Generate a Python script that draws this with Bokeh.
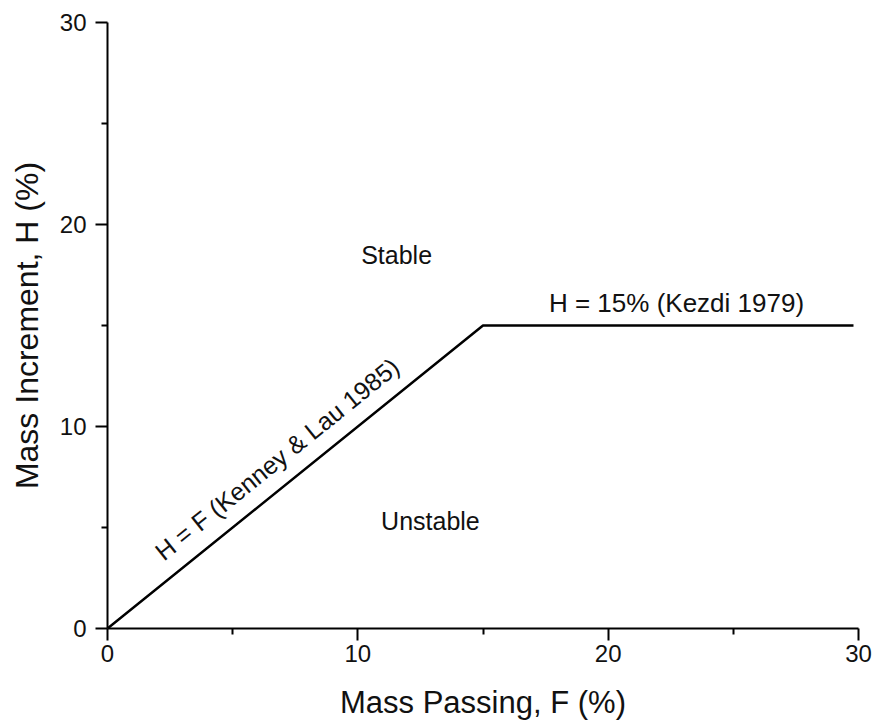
import math
from bokeh.plotting import figure
from bokeh.models import Range1d, FixedTicker, ColumnDataSource
from bokeh.embed import file_html
from bokeh.resources import INLINE
from bokeh.core.properties import value

# ---- data ----
mass_passing = [0, 15, 29.8]      # F (%)
mass_increment = [0, 15, 15]      # H (%)

x_major = [0, 10, 20, 30]
x_minor = [5, 15, 25]
y_major = [0, 10, 20, 30]
y_minor = [5, 15, 25]

region_labels = ["Stable", "Unstable"]
region_x = [11.55, 12.9]
region_y = [18.5, 5.3]

kezdi_label = ["H = 15% (Kezdi 1979)"]
kezdi_x = [22.73]
kezdi_y = [16.1]

kenney_label = ["H = F (Kenney & Lau 1985)"]
kenney_x = [6.77]
kenney_y = [8.39]

FONT = "Liberation Sans"

W, H = 875, 727
left, right, top, bottom = 107, 17, 22, 99
frame_w = W - left - right
frame_h = H - top - bottom

p = figure(width=W, height=H, output_backend="svg", toolbar_location=None,
           x_range=Range1d(0, 30), y_range=Range1d(0, 30),
           min_border_left=left, min_border_right=right,
           min_border_top=top, min_border_bottom=bottom)
p.outline_line_color = None
p.grid.visible = False
p.background_fill_color = "white"
p.border_fill_color = "white"

p.line(mass_passing, mass_increment, line_color="black", line_width=2.5)

src_r = ColumnDataSource(dict(x=region_x, y=region_y, t=region_labels))
p.text("x", "y", text="t", source=src_r, text_font=value(FONT),
       text_font_size="25px", text_align="center", text_baseline="middle",
       text_color="#111111")

src_k = ColumnDataSource(dict(x=kezdi_x, y=kezdi_y, t=kezdi_label))
p.text("x", "y", text="t", source=src_k, text_font=value(FONT),
       text_font_size="26px", text_align="center", text_baseline="middle",
       text_color="#111111")

ang = math.atan2(frame_h, frame_w)
src_kl = ColumnDataSource(dict(x=kenney_x, y=kenney_y, t=kenney_label))
p.text("x", "y", text="t", source=src_kl, text_font=value(FONT),
       text_font_size="25px", text_align="center", text_baseline="middle",
       angle=ang, text_color="#111111")

for ax, maj, mnr in ((p.xaxis[0], x_major, x_minor), (p.yaxis[0], y_major, y_minor)):
    ax.ticker = FixedTicker(ticks=maj, minor_ticks=mnr)
    ax.axis_line_width = 2
    ax.axis_line_color = "black"
    ax.major_tick_line_width = 2
    ax.minor_tick_line_width = 2
    ax.major_tick_line_color = "black"
    ax.minor_tick_line_color = "black"
    ax.major_tick_out = 12
    ax.major_tick_in = 0
    ax.minor_tick_out = 6
    ax.minor_tick_in = 0
    ax.major_label_text_font = FONT
    ax.major_label_text_font_size = "24px"
    ax.major_label_text_color = "#111111"
    ax.axis_label_text_font = FONT
    ax.axis_label_text_font_style = "normal"
    ax.axis_label_text_color = "#111111"

p.xaxis.axis_label = "Mass Passing, F (%)"
p.yaxis.axis_label = "Mass Increment, H (%)"
p.xaxis.axis_label_text_font_size = "31px"
p.yaxis.axis_label_text_font_size = "32px"
p.xaxis.major_label_standoff = 4
p.yaxis.major_label_standoff = 9
p.xaxis.axis_label_standoff = 20
p.yaxis.axis_label_standoff = 12

open("out.html", "w").write(file_html(p, INLINE))
